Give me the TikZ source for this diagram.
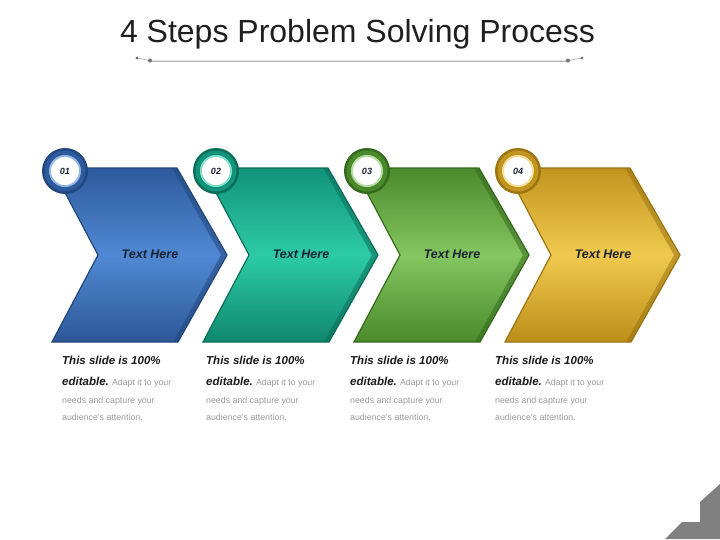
\documentclass[tikz,border=0pt]{standalone}
\usepackage{fontspec}
\setmainfont{Liberation Sans}
\definecolor{blueT}{HTML}{2E5A9E}
\definecolor{blueM}{HTML}{5089D3}
\definecolor{blueB}{HTML}{2D5896}
\definecolor{blueE}{HTML}{22467E}
\definecolor{tealT}{HTML}{12937A}
\definecolor{tealM}{HTML}{2CCBA6}
\definecolor{tealB}{HTML}{10876E}
\definecolor{tealE}{HTML}{0B6E59}
\definecolor{greenT}{HTML}{4B8A2C}
\definecolor{greenM}{HTML}{84C660}
\definecolor{greenB}{HTML}{4A8A2B}
\definecolor{greenE}{HTML}{356A1C}
\definecolor{goldT}{HTML}{C29520}
\definecolor{goldM}{HTML}{F0C94E}
\definecolor{goldB}{HTML}{BC8E1A}
\definecolor{goldE}{HTML}{9C7410}
\definecolor{labelc}{HTML}{1C2233}
\definecolor{greytext}{HTML}{9A9A9A}
\tikzset{
  titlestyle/.style={font=\fontsize{32}{36}\selectfont, text=black!88, inner sep=0pt},
  numstyle/.style={font=\bfseries\itshape\fontsize{9}{9}\selectfont, text=labelc, inner sep=0pt},
  herestyle/.style={font=\bfseries\itshape\fontsize{12.5}{12.5}\selectfont, text=labelc, inner sep=0pt},
  boldline/.style={font=\bfseries\itshape\fontsize{11.5}{12}\selectfont, text=black!90, inner sep=0pt, anchor=base west},
  greyline/.style={font=\fontsize{8.8}{9}\selectfont, text=greytext, inner sep=0pt, anchor=base west},
  dotstyle/.style={fill=black!55},
}
\begin{document}
\begin{tikzpicture}[x=1pt,y=-1pt]
\useasboundingbox (0,0) rectangle (720,539);
\fill[white] (0,0) rectangle (720,539);
% title
\node[titlestyle, anchor=base] (title) at (357.5,42) {4 Steps Problem Solving Process};
\coordinate (la) at (137,58);
\coordinate (lb) at (150,60.5);
\coordinate (lc) at (568,60.5);
\coordinate (ld) at (582,58);
\draw[black!35, line width=0.6pt] (la) -- (lb) -- (lc) -- (ld);
\draw[black!30, line width=2pt] (lb) -- (lc);
\draw[black!12, line width=0.6pt] (lb) -- (lc);
\fill[dotstyle] (la) circle (1.6);
\fill[dotstyle] (lb) circle (2);
\fill[dotstyle] (lc) circle (2);
\fill[dotstyle] (ld) circle (1.6);
% chevrons
\foreach \i/\c/\num in {0/blue/01,1/teal/02,2/green/03,3/gold/04} {
  \begin{scope}[xshift={\i*151pt}]
    \draw[draw=\c E, line width=1.2pt, top color=\c T, bottom color=\c B, middle color=\c M]
      (52,168) -- (177,168) -- (227,255) -- (178,342) -- (52,342) -- (98,255) -- cycle;
    \fill[\c E, opacity=0.55] (177,168) -- (227,255) -- (178,342) -- (173,342) -- (221,255) -- (172,168) -- cycle;
    \fill[\c E] (65,171) circle (23);
    \fill[\c T] (65,171) circle (20.5);
    \fill[\c M!60!white] (65,171) circle (16);
    \fill[white] (65,171) circle (14);
    \node[numstyle] (num\i) at (65,171) {\num};
    \node[herestyle] (here\i) at (150,254) {Text Here};
  \end{scope}
}
% descriptions
\foreach \i/\x in {0/62,1/206,2/350,3/495} {
  \node[boldline] (da\i) at (\x,364) {This slide is 100\%};
  \node[boldline] (db\i) at (\x,385) {editable.\ \fontsize{8.8}{9}\selectfont\normalfont\color{greytext}Adapt it to your};
  \node[greyline] (dc\i) at (\x,403) {needs and capture your};
  \node[greyline] (dd\i) at (\x,420) {audience's attention.};
}
% corner decoration
\fill[black!50] (665,539) -- (682,522) -- (700,522) -- (700,502) -- (720,484) -- (720,539) -- cycle;
\end{tikzpicture}
\end{document}
